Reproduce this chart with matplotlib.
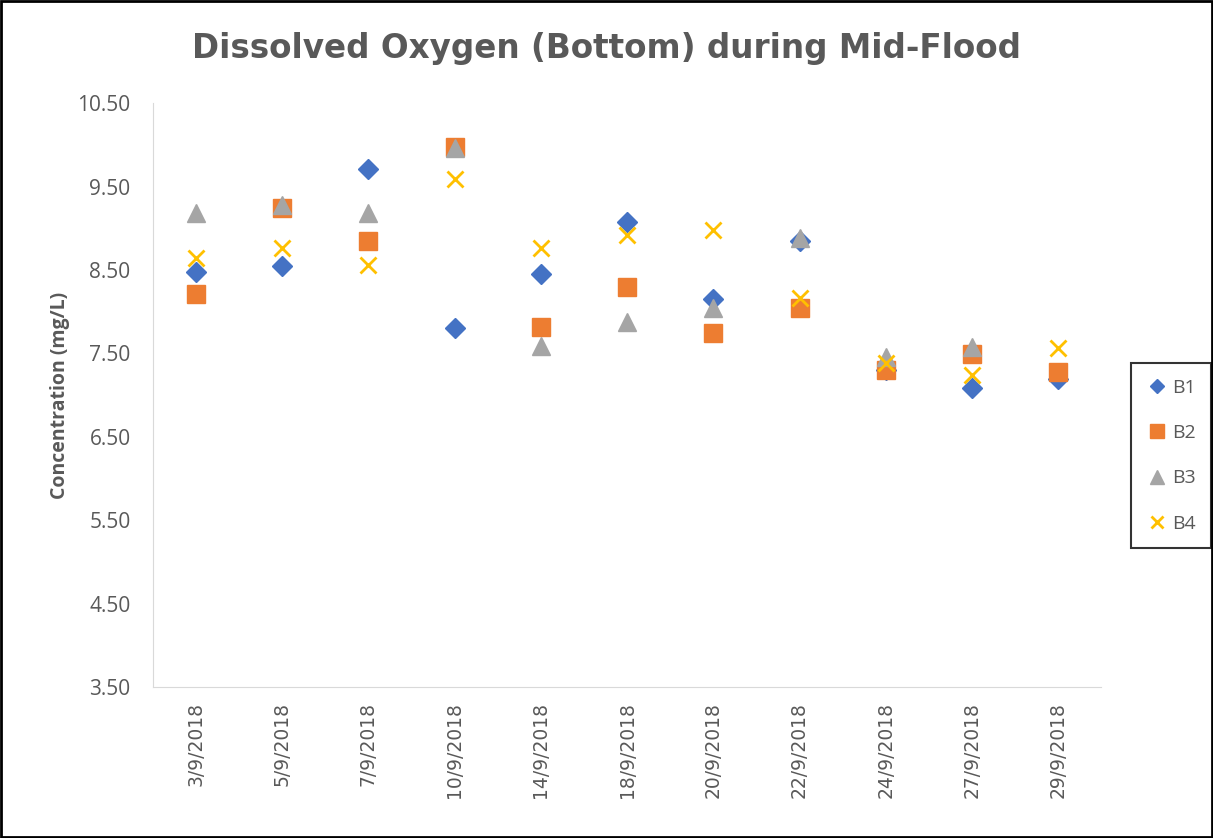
import matplotlib.pyplot as plt
import numpy as np

plt.rcParams['font.family'] = ['Open Sans', 'DejaVu Sans']

############################
# data
############################
dates = ["3/9/2018", "5/9/2018", "7/9/2018", "10/9/2018", "14/9/2018",
         "18/9/2018", "20/9/2018", "22/9/2018", "24/9/2018", "27/9/2018",
         "29/9/2018"]
b1 = [8.47, 8.55, 9.71, 7.80, 8.45, 9.07, 8.15, 8.85, 7.30, 7.08, 7.19]
b2 = [8.21, 9.24, 8.85, 9.97, 7.82, 8.29, 7.74, 8.05, 7.30, 7.49, 7.28]
b3 = [9.18, 9.28, 9.18, 9.96, 7.59, 7.88, 8.05, 8.88, 7.46, 7.58, np.nan]
b4 = [8.64, 8.76, 8.56, 9.59, 8.76, 8.92, 8.98, 8.16, 7.38, 7.24, 7.56]
yticks = [3.5, 4.5, 5.5, 6.5, 7.5, 8.5, 9.5, 10.5]

grey = '#595959'
fig = plt.figure(figsize=(12.13, 8.38), dpi=100)
ax = fig.add_axes([0.126, 0.180, 0.782, 0.697])

x = np.arange(len(dates))
ax.plot(x, b1, 'D', color='#4472C4', ms=10, ls='none', label='B1')
ax.plot(x, b2, 's', color='#ED7D31', ms=13, ls='none', label='B2')
ax.plot(x, b3, '^', color='#A5A5A5', ms=13, ls='none', label='B3')
ax.plot(x, b4, 'x', color='#FFC000', ms=12, mew=2, ls='none', label='B4')

ax.set_xlim(-0.5, len(dates) - 0.5)
ax.set_ylim(3.5, 10.5)
ax.set_yticks(yticks)
ax.set_yticklabels(["%.2f" % v for v in yticks])
ax.set_xticks(x)
ax.set_xticklabels(dates, rotation=90, family='DejaVu Sans')
ax.tick_params(length=0, colors=grey)
ax.tick_params(axis='y', labelsize=15, pad=16)
ax.tick_params(axis='x', labelsize=13.5, pad=11)
for s in ['top', 'right']:
    ax.spines[s].set_visible(False)
for s in ['left', 'bottom']:
    ax.spines[s].set_color('#d9d9d9')

ax.set_ylabel("Concentration (mg/L)", fontsize=14, fontweight='bold',
              color=grey)
ax.yaxis.set_label_coords(-0.087, 0.5)
fig.text(0.5, 0.942, "Dissolved Oxygen (Bottom) during Mid-Flood",
         ha='center', va='center', fontsize=23.5, fontweight='bold',
         color=grey, family='DejaVu Sans')

leg = ax.legend(loc='center left', bbox_to_anchor=(1.031, 0.396),
                frameon=True, fancybox=False, fontsize=14, labelspacing=1.4,
                handletextpad=0.2, handlelength=1.1, markerscale=0.75,
                borderpad=0.8, borderaxespad=0)
leg.get_frame().set_edgecolor('black')
leg.get_frame().set_linewidth(1.5)
for t in leg.get_texts():
    t.set_color(grey)

# border around the whole picture
fig.patches.append(plt.Rectangle((0.001, 0.001), 0.998, 0.998,
                                 transform=fig.transFigure, fill=False,
                                 edgecolor='black', linewidth=2))

fig.savefig("out.png", dpi=100)
